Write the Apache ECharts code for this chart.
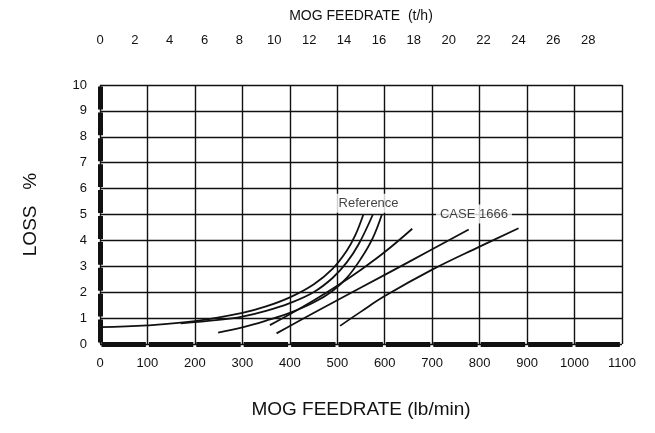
<!DOCTYPE html>
<html>
<head>
<meta charset="utf-8">
<script src="https://cdn.jsdelivr.net/npm/echarts@6/dist/echarts.min.js"></script>
<style>
  html, body { margin: 0; padding: 0; background: #fff; }
  #chart { width: 655px; height: 433px; }
</style>
</head>
<body>
<div id="chart"></div>
<script>
// MOG feedrate (lb/min) vs loss (%)
const refA = [[0, 0.65], [100, 0.72], [200, 0.88], [300, 1.2], [350, 1.45], [400, 1.8], [450, 2.3], [490, 2.9], [520, 3.6], [538, 4.2], [555, 5.0]];
const refB = [[170, 0.8], [250, 0.93], [300, 1.06], [350, 1.28], [400, 1.58], [450, 2.0], [490, 2.55], [520, 3.15], [545, 3.85], [575, 5.0]];
const refC = [[249, 0.44], [300, 0.64], [350, 0.9], [400, 1.2], [450, 1.6], [490, 2.05], [520, 2.55], [550, 3.3], [575, 4.1], [594, 5.0]];
const caseD = [[358, 0.73], [400, 1.15], [450, 1.68], [500, 2.25], [550, 2.87], [600, 3.55], [658, 4.45]];
const caseE = [[372, 0.41], [450, 1.2], [550, 2.18], [650, 3.16], [777, 4.42]];
const caseF = [[506, 0.7], [550, 1.25], [600, 1.85], [700, 2.87], [800, 3.76], [882, 4.47]];

const annotations = [
  { name: 'Reference', value: [566, 5.43] },
  { name: 'CASE 1666', value: [788, 5.02] }
];

const LB_MIN_PER_TPH = 36.74; // metric t/h -> lb/min
const X_MAX = 1100;
const Y_MAX = 10;

const FONT = "'Liberation Sans', Arial, sans-serif";
const INK = '#111';

const chart = echarts.init(document.getElementById('chart'), null, { renderer: 'canvas' });

function curve(data) {
  return {
    type: 'line',
    data: data,
    smooth: 0.4,
    symbol: 'none',
    silent: true,
    lineStyle: { color: INK, width: 1.8 },
    z: 3
  };
}

const plain = v => String(v);

chart.setOption({
  backgroundColor: '#fff',
  animation: false,
  textStyle: { fontFamily: FONT, color: INK },
  grid: { left: 100, right: 33, top: 85, bottom: 89 },
  xAxis: [
    {
      type: 'value',
      position: 'bottom',
      min: 0,
      max: X_MAX,
      interval: 100,
      name: 'MOG FEEDRATE (lb/min)',
      nameLocation: 'middle',
      nameGap: 56,
      nameTextStyle: { fontSize: 19, color: INK, fontFamily: FONT },
      axisLine: { show: true, lineStyle: { color: INK, width: 5, cap: 'butt', type: [44.4, 3], dashOffset: -1.5 } },
      axisTick: { show: false },
      axisLabel: { margin: 13, fontSize: 13, color: INK, fontFamily: FONT, formatter: plain },
      splitLine: { show: true, lineStyle: { color: INK, width: 1.4 } }
    },
    {
      type: 'value',
      position: 'top',
      min: 0,
      max: X_MAX / LB_MIN_PER_TPH,
      interval: 2,
      name: 'MOG FEEDRATE  (t/h)',
      nameLocation: 'middle',
      nameGap: 62,
      nameTextStyle: { fontSize: 14, color: INK, fontFamily: FONT },
      axisLine: { show: false },
      axisTick: { show: false },
      axisLabel: { margin: 38, fontSize: 13, color: INK, fontFamily: FONT, showMaxLabel: false, formatter: plain },
      splitLine: { show: false }
    }
  ],
  yAxis: {
    type: 'value',
    min: 0,
    max: Y_MAX,
    interval: 1,
    name: 'LOSS   %',
    nameLocation: 'middle',
    nameGap: 60,
    nameRotate: 90,
    nameTextStyle: { fontSize: 19, color: INK, fontFamily: FONT },
    axisLine: { show: true, lineStyle: { color: INK, width: 5, cap: 'butt', type: [22.9, 3], dashOffset: -1.5 } },
    axisTick: { show: false },
    axisLabel: { margin: 13, fontSize: 13, color: INK, fontFamily: FONT },
    splitLine: { show: true, lineStyle: { color: INK, width: 1.4 } }
  },
  series: [
    curve(refA),
    curve(refB),
    curve(refC),
    curve(caseD),
    curve(caseE),
    curve(caseF),
    {
      type: 'scatter',
      data: annotations,
      symbolSize: 0,
      silent: true,
      z: 5,
      label: {
        show: true,
        position: 'inside',
        formatter: '{b}',
        fontSize: 13,
        color: INK,
        fontFamily: FONT,
        backgroundColor: '#fff',
        padding: [3, 4]
      }
    }
  ]
});
</script>
</body>
</html>
